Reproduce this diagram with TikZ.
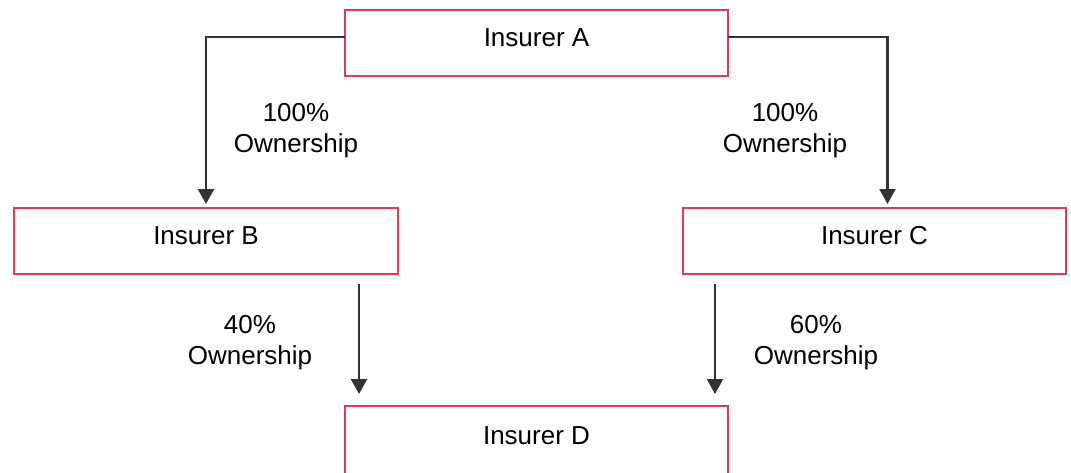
\documentclass[tikz,border=0pt]{standalone}
\usepackage{fontspec}
\setmainfont{Liberation Sans}
\usepackage{xcolor}
\usetikzlibrary{positioning, calc, arrows.meta}
\definecolor{boxred}{HTML}{DC3C55}
\definecolor{linegray}{HTML}{333333}

\begin{document}
\begin{tikzpicture}[
    x=1pt, y=-1pt,
    insurer/.style={rectangle, draw=boxred, line width=2pt, outer sep=0pt, inner sep=0pt, minimum width=383pt, minimum height=66pt, text height=19pt, text depth=12pt, font=\fontsize{26}{31}\selectfont},
    share/.style={align=center, font=\fontsize{26}{31}\selectfont},
    arrow/.style={-{Triangle[length=15pt,width=16pt]}, line width=2.3pt, draw=linegray}
]
\useasboundingbox (0,0) rectangle (1071,472);

\node[insurer] (insA) at (536.5,43) {Insurer A};
\node[insurer, minimum width=384pt] (insB) at (206,241) {Insurer B};
\node[insurer] (insC) at (874.5,241) {Insurer C};
\node[insurer, minimum height=70pt] (insD) at (536.5,441) {Insurer D};

\node[share] (shareB) at (296,131) {100\%\\Ownership};
\node[share] (shareC) at (785,131) {100\%\\Ownership};
\node[share] (shareBD) at (250,343) {40\%\\Ownership};
\node[share] (shareCD) at (816,343) {60\%\\Ownership};

\draw[arrow] ([yshift=6pt]insA.west) -| ([yshift=4pt]insB.north);
\draw[arrow] ([yshift=6pt]insA.east) -| ([xshift=13pt,yshift=4pt]insC.north);
\draw[arrow] ([xshift=-39pt,yshift=-10pt]insB.south east) -- ([xshift=14pt,yshift=12pt]insD.north west);
\draw[arrow] ([xshift=32pt,yshift=-10pt]insC.south west) -- ([xshift=-13pt,yshift=12pt]insD.north east);
\end{tikzpicture}
\end{document}
